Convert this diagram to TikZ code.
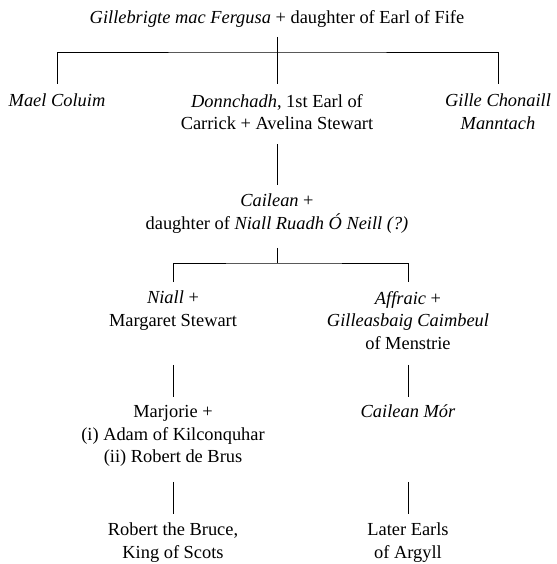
\documentclass[tikz,border=0pt]{standalone}
\usepackage{fontspec}
\setmainfont{Liberation Serif}
\usepackage{tikz}

\begin{document}
\begin{tikzpicture}[
  x=1pt, y=-1pt,
  person/.style={
    inner sep=0pt,
    anchor=north,
    align=center,
    font=\fontsize{18.4}{22.7}\selectfont
  },
  line/.style={line width=0.9pt}
]
\useasboundingbox (0,0) rectangle (556,564);

% Gillebrigte (top)
\node[person] (gille0) at (277,10.5) {\textit{Gillebrigte mac Fergusa} + daughter of Earl of Fife};

% sons
\node[person] (mael) at (57,94) {\textit{Mael Coluim}};
\node[person] (donn) at (277,94) {%
  \textit{Donnchadh}, 1st Earl of\\
  Carrick + Avelina Stewart};
\node[person] (chon) at (498,94) {%
  \textit{Gille Chonaill}\\
  \textit{Manntach}};

% Cailean
\node[person] (cail) at (277,194) {%
  \textit{Cailean} +\\
  daughter of \textit{Niall Ruadh Ó Neill (?)}};

% children of Cailean
\node[person] (niall) at (173,291) {%
  \textit{Niall} +\\
  Margaret Stewart};
\node[person] (affr) at (408,291) {%
  \textit{Affraic} +\\
  \textit{Gilleasbaig Caimbeul}\\
  of Menstrie};

\node[person] (marj) at (173,405) {%
  Marjorie +\\
  (i) Adam of Kilconquhar\\
  (ii) Robert de Brus};
\node[person] (mor) at (408,405) {\textit{Cailean Mór}};

\node[person] (bruce) at (173,523) {%
  Robert the Bruce,\\
  King of Scots};
\node[person] (argyll) at (408,523) {%
  Later Earls\\
  of Argyll};

% junctions
\coordinate (j1) at (277,52);
\coordinate (j2) at (277,263);

% lines of descent
\draw[line, shorten <=9pt] (gille0) -- (j1);
\draw[line, shorten <=10pt, shorten >=10pt] (mael) |- (j1) -| (chon);
\draw[line, shorten >=10pt] (j1) -- (donn);
\draw[line, shorten <=14pt, shorten >=9pt] (donn) -- (cail);
\draw[line, shorten <=14pt] (cail) -- (j2);
\draw[line, shorten <=9pt, shorten >=9pt] (niall) |- (j2) -| (affr);
\draw[line, shorten <=15pt, shorten >=8pt] (niall |- affr.south) -- (marj);
\draw[line, shorten <=15pt, shorten >=8pt] (affr) -- (mor);
\draw[line, shorten <=15pt, shorten >=9pt] (marj) -- (bruce);
\draw[line, shorten <=15pt, shorten >=9pt] (mor |- marj.south) -- (argyll);

\end{tikzpicture}
\end{document}
